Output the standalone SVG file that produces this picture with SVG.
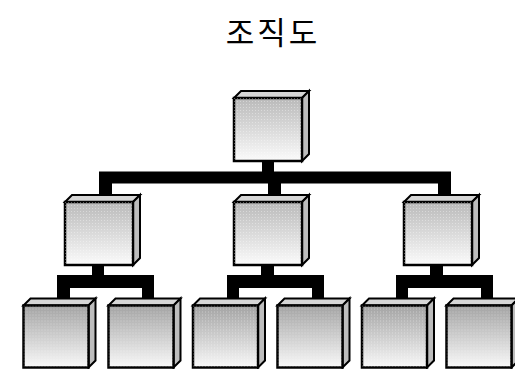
<svg xmlns="http://www.w3.org/2000/svg" width="515" height="369" viewBox="0 0 515 369">
<defs>
<linearGradient id="gFrontA" x1="0" y1="0" x2="0" y2="1">
<stop offset="0" stop-color="#b9b9b9"/><stop offset="1" stop-color="#fbfbfb"/>
</linearGradient>
<linearGradient id="gFrontB" x1="0" y1="0" x2="0" y2="1">
<stop offset="0" stop-color="#a3a3a3"/><stop offset="1" stop-color="#f8f8f8"/>
</linearGradient>
<pattern id="dots" width="3" height="3" patternUnits="userSpaceOnUse">
<rect x="0" y="0" width="1" height="1" fill="#ffffff" fill-opacity="0.35"/>
</pattern>
<g id="boxA">
<path class="top" d="M0,0 L7,-7 L75,-7 L68,0 Z"/>
<path class="side" d="M68,0 L75,-7 L75,56 L68,63 Z"/>
<rect class="frontA" x="0" y="0" width="68" height="63"/>
<rect class="tex" x="0" y="0" width="68" height="63"/>
</g>
<g id="boxB">
<path class="top" d="M0,0 L7,-7 L72,-7 L65,0 Z"/>
<path class="side" d="M65,0 L72,-7 L72,55 L65,62 Z"/>
<rect class="frontB" x="0" y="0" width="65" height="62"/>
<rect class="tex" x="0" y="0" width="65" height="62"/>
</g>
</defs>
<style>
.top{fill:#d6d6d6;stroke:#000;stroke-width:2;stroke-linejoin:miter}
.side{fill:#bdbdbd;stroke:#000;stroke-width:2;stroke-linejoin:miter}
.frontA{fill:url(#gFrontA);stroke:#000;stroke-width:2.5}
.frontB{fill:url(#gFrontB);stroke:#000;stroke-width:2.5}
.tex{fill:url(#dots);stroke:none}
.bar{fill:#000}
.title{font-family:"Noto Sans CJK KR","Noto Sans",sans-serif;font-size:31px;fill:#000}
</style>
<text class="title" x="273" y="44" text-anchor="middle" letter-spacing="3">조직도</text>
<g id="connectors">
<rect class="bar" x="262" y="160" width="12" height="13"/>
<rect class="bar" x="99" y="171.5" width="352" height="12"/>
<rect class="bar" x="99" y="183" width="13" height="14"/>
<rect class="bar" x="268" y="183" width="13" height="14"/>
<rect class="bar" x="438" y="183" width="13" height="14"/>
<rect class="bar" x="92" y="263" width="12" height="13"/>
<rect class="bar" x="261" y="263" width="13" height="13"/>
<rect class="bar" x="430" y="263" width="13" height="13"/>
<rect class="bar" x="57" y="275" width="97" height="13"/>
<rect class="bar" x="227" y="275" width="97" height="13"/>
<rect class="bar" x="396" y="275" width="97" height="13"/>
<rect class="bar" x="57" y="287" width="13" height="15"/>
<rect class="bar" x="142" y="287" width="12" height="15"/>
<rect class="bar" x="227" y="287" width="12" height="15"/>
<rect class="bar" x="312" y="287" width="12" height="15"/>
<rect class="bar" x="396" y="287" width="12" height="15"/>
<rect class="bar" x="481" y="287" width="12" height="15"/>
</g>
<g id="n0"><use href="#boxA" x="234" y="98"/></g>
<g id="n1"><use href="#boxA" x="65" y="202"/></g>
<g id="n2"><use href="#boxA" x="234" y="202"/></g>
<g id="n3"><use href="#boxA" x="404" y="202"/></g>
<g id="n4"><use href="#boxB" x="23.5" y="305.5"/></g>
<g id="n5"><use href="#boxB" x="108.5" y="305.5"/></g>
<g id="n6"><use href="#boxB" x="193" y="305.5"/></g>
<g id="n7"><use href="#boxB" x="277.5" y="305.5"/></g>
<g id="n8"><use href="#boxB" x="362" y="305.5"/></g>
<g id="n9"><use href="#boxB" x="446.5" y="305.5"/></g>
</svg>
